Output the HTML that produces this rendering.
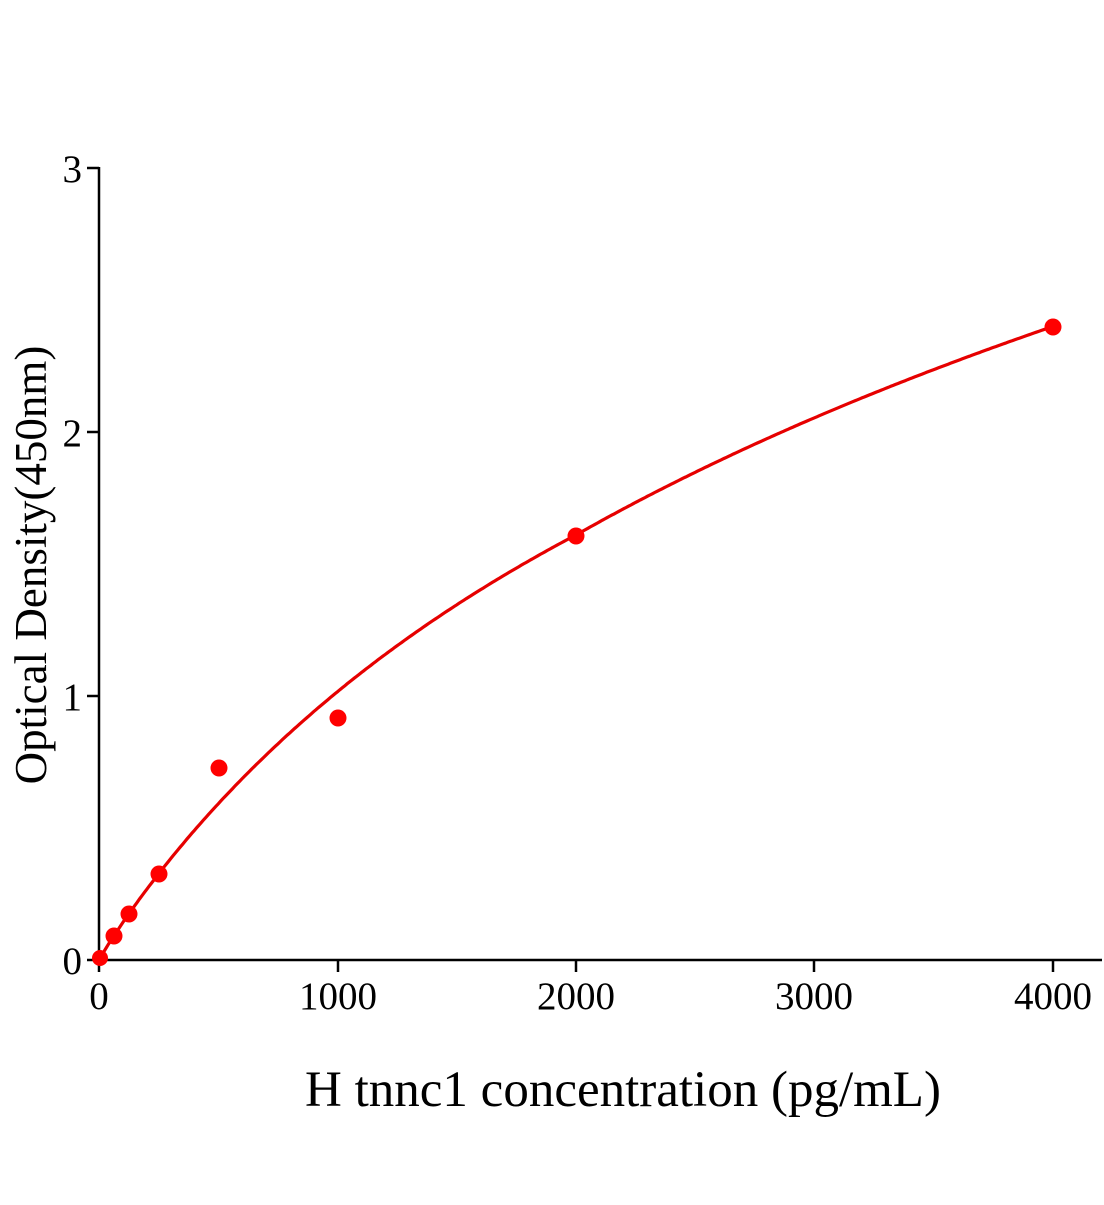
<!DOCTYPE html>
<html><head><meta charset="utf-8"><style>
html,body{margin:0;padding:0;background:#fff;}
svg text{font-family:"Liberation Serif",serif;fill:#000;}
</style></head><body>
<svg id="s" width="1104" height="1200" xmlns="http://www.w3.org/2000/svg">
<g stroke="#000" stroke-width="2.5" fill="none">
<line x1="99" y1="167" x2="99" y2="961"/>
<line x1="98" y1="960" x2="1102" y2="960"/>
<line x1="87" y1="168" x2="99" y2="168"/>
<line x1="87" y1="432" x2="99" y2="432"/>
<line x1="87" y1="696" x2="99" y2="696"/>
<line x1="87" y1="960" x2="99" y2="960"/>
<line x1="99" y1="960" x2="99" y2="972"/>
<line x1="338" y1="960" x2="338" y2="972"/>
<line x1="576" y1="960" x2="576" y2="972"/>
<line x1="814" y1="960" x2="814" y2="972"/>
<line x1="1053" y1="960" x2="1053" y2="972"/>
</g>
<g font-size="39" text-anchor="end">
<text x="82" y="182">3</text>
<text x="82" y="446">2</text>
<text x="82" y="710">1</text>
<text x="82" y="974">0</text>
</g>
<g font-size="39" text-anchor="middle">
<text x="99" y="1009">0</text>
<text x="338" y="1009">1000</text>
<text x="576" y="1009">2000</text>
<text x="814" y="1009">3000</text>
<text x="1053" y="1009">4000</text>
</g>
<text x="623" y="1106" font-size="51" text-anchor="middle">H tnnc1 concentration (pg/mL)</text>
<text transform="translate(46,565) rotate(-90)" font-size="45" text-anchor="middle">Optical Density(450nm)</text>
<path id="c" fill="none" stroke="#e60000" stroke-width="3.2"/>
<g fill="#f00">
<circle cx="100" cy="958" r="8"/>
<circle cx="114" cy="936" r="8.5"/>
<circle cx="129" cy="914" r="8.5"/>
<circle cx="159" cy="874" r="8.5"/>
<circle cx="219" cy="768" r="8.5"/>
<circle cx="338" cy="718" r="8.5"/>
<circle cx="576" cy="536" r="8.5"/>
<circle cx="1053" cy="327" r="8.5"/>
</g>
</svg>
<script>
(function(){
var V=4.0,K=3300,n=0.96;
function f(x){var a=Math.pow(x,n);return V*a/(Math.pow(K,n)+a);}
var s1=1.61/f(2000),s2=2.4/f(4000);
var d="";
for(var i=0;i<=400;i++){var x=i*10;var sc=x<2000?s1:s1+(s2-s1)*(x-2000)/2000;var y=f(x)*sc;
var px=99+x*0.2385,py=960-y*264;d+=(i?"L":"M")+px.toFixed(1)+" "+py.toFixed(1);}
document.getElementById("c").setAttribute("d",d);
})();
</script>
</body></html>
